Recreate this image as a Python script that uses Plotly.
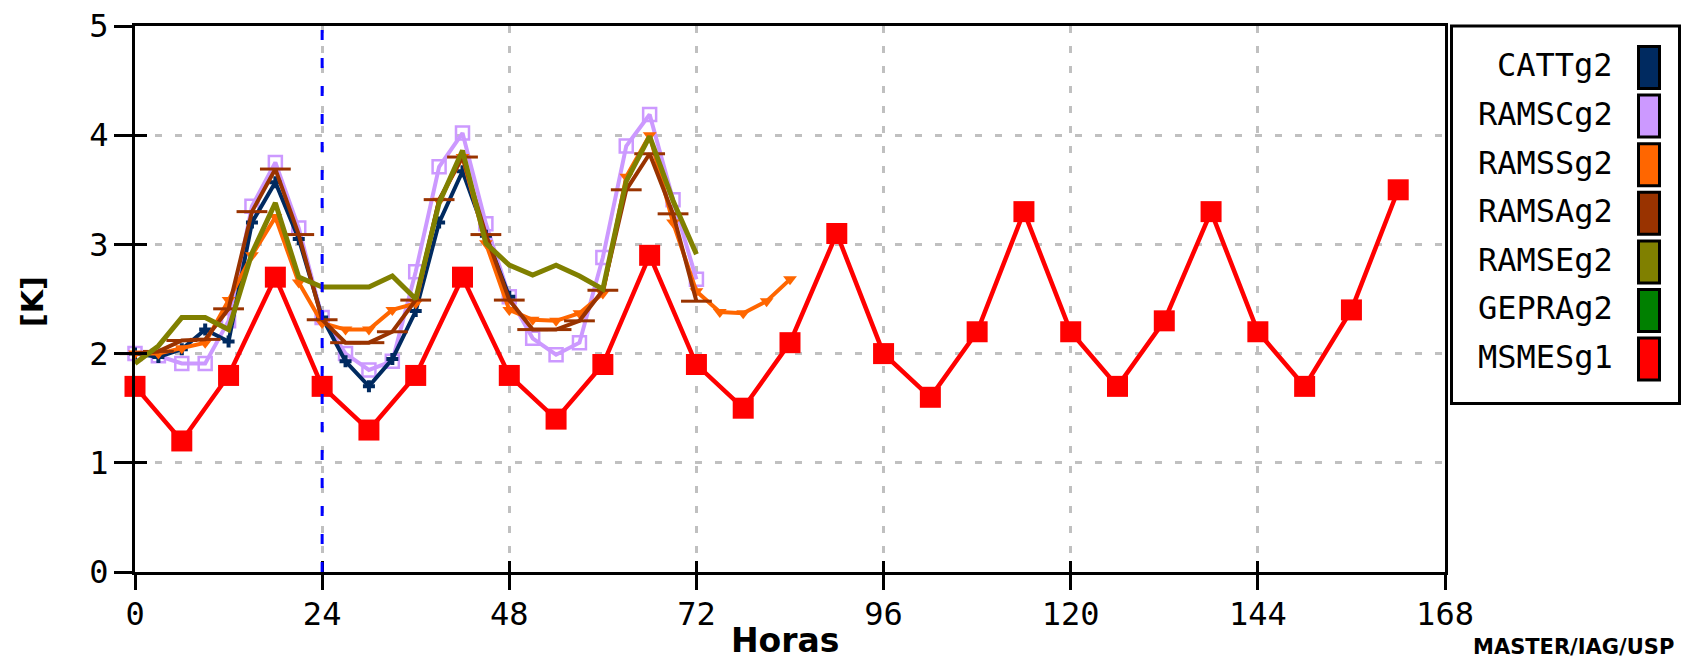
import plotly.graph_objects as go

# ---------------- data ----------------
hours3 = list(range(0, 85, 3))
hours6 = list(range(0, 163, 6))

catt = [2.0, 1.97, 2.04, 2.22, 2.11, 3.2, 3.57, 3.05, 2.33, 1.93, 1.7, 1.95, 2.39,
        3.2, 3.67, 3.08, 2.52]
ramsc = [2.0, 1.98, 1.91, 1.91, 2.3, 3.35, 3.75, 3.15, 2.33, 2.0, 1.85, 1.93, 2.75,
         3.71, 4.02, 3.19, 2.52, 2.14, 1.99, 2.1, 2.88, 3.9, 4.19, 3.41, 2.68]
ramss = [2.0, 2.0, 2.05, 2.1, 2.49, 2.9, 3.25, 2.65, 2.28, 2.22, 2.22, 2.4, 2.46,
         3.4, 3.8, 3.01, 2.4, 2.31, 2.3, 2.37, 2.55, 3.62, 4.0, 3.2, 2.57, 2.38,
         2.37, 2.48, 2.68]
ramsa = [2.0, 2.02, 2.12, 2.13, 2.41, 3.3, 3.69, 3.09, 2.31, 2.1, 2.1, 2.2, 2.49,
         3.41, 3.8, 3.09, 2.49, 2.22, 2.22, 2.3, 2.58, 3.5, 3.83, 3.28, 2.48]
ramse = [1.91, 2.07, 2.33, 2.33, 2.22, 2.92, 3.38, 2.7, 2.61, 2.61, 2.61, 2.71, 2.5,
         3.38, 3.86, 3.01, 2.81, 2.72, 2.81, 2.71, 2.59, 3.58, 3.99, 3.4, 2.91]
gepra = []
msmes = [1.7, 1.2, 1.8, 2.7, 1.7, 1.3, 1.8, 2.7, 1.8, 1.4, 1.9, 2.9, 1.9, 1.5, 2.1,
         3.1, 2.0, 1.6, 2.2, 3.3, 2.2, 1.7, 2.3, 3.3, 2.2, 1.7, 2.4, 3.5]

names = ["CATTg2", "RAMSCg2", "RAMSSg2", "RAMSAg2", "RAMSEg2", "GEPRAg2", "MSMESg1"]
colors = ["#002A60", "#CC99FF", "#FF6600", "#993300", "#808000", "#008000", "#FF0000"]

forecast_start = 24
x_ticks = [0, 24, 48, 72, 96, 120, 144, 168]
y_ticks = [0, 1, 2, 3, 4, 5]

# ---------------- layout geometry ----------------
W, H = 1681, 662
L, R, T, B = 135, 1445, 26, 572


def px_x(p):
    return (p - L) / (R - L)


def px_y(p):
    return (B - p) / (B - T)


TICKFONT = dict(family="DejaVu Sans Mono", size=32, color="black")

fig = go.Figure()

styles = {
    "CATTg2": (catt, hours3, dict(symbol="cross", size=10), 4),
    "RAMSCg2": (ramsc, hours3, dict(symbol="square-open", size=13, line=dict(width=2.5)), 4),
    "RAMSSg2": (ramss, hours3, dict(symbol="triangle-down", size=12), 4),
    "RAMSAg2": (ramsa, hours3, dict(symbol="line-ew", size=22, line=dict(width=3)), 4),
    "RAMSEg2": (ramse, hours3, dict(size=1), 5),
    "GEPRAg2": (gepra, hours3, dict(size=1), 4),
    "MSMESg1": (msmes, hours6, dict(symbol="square", size=21), 4.5),
}
draw_order = ["RAMSCg2", "CATTg2", "RAMSSg2", "RAMSAg2", "RAMSEg2", "GEPRAg2", "MSMESg1"]
for name in draw_order:
    vals, xs, mk, lw = styles[name]
    col = colors[names.index(name)]
    mk = dict(mk)
    mk["color"] = col
    if "line" in mk:
        mk["line"] = dict(mk["line"], color=col)
    mode = "lines" if name in ("RAMSEg2", "GEPRAg2") else "lines+markers"
    fig.add_trace(go.Scatter(
        x=xs[:len(vals)], y=vals, name=name, mode=mode,
        line=dict(color=col, width=lw), marker=mk,
        cliponaxis=False, showlegend=False,
    ))

# invisible trace on overlay axes so inside ticks are drawn
fig.add_trace(go.Scatter(x=[None], y=[None], xaxis="x2", yaxis="y2",
                         showlegend=False, hoverinfo="skip"))

fig.update_layout(
    width=W, height=H,
    margin=dict(l=L, r=W - R, t=T, b=H - B, autoexpand=False),
    paper_bgcolor="white", plot_bgcolor="white",
    showlegend=False,
    xaxis=dict(
        range=[0, 168], tickvals=x_ticks, ticktext=[str(v) for v in x_ticks],
        showline=True, linecolor="black", linewidth=3, mirror=True,
        ticks="outside", ticklen=15, tickwidth=3, tickcolor="black",
        showgrid=True, gridcolor="#C0C0C0", gridwidth=3, griddash="7px,13px",
        zeroline=False, tickfont=TICKFONT, ticklabelstandoff=-3,
    ),
    yaxis=dict(
        range=[0, 5], tickvals=y_ticks, ticktext=[str(v) for v in y_ticks],
        showline=True, linecolor="black", linewidth=3, mirror=True,
        ticks="outside", ticklen=18, tickwidth=3, tickcolor="black",
        showgrid=True, gridcolor="#C0C0C0", gridwidth=3, griddash="7px,13px",
        zeroline=False, tickfont=TICKFONT, ticklabelstandoff=-1,
    ),
    xaxis2=dict(
        range=[0, 168], overlaying="x", anchor="y", side="bottom",
        tickvals=x_ticks, showticklabels=False, ticks="inside", ticklen=11,
        tickwidth=3, tickcolor="black", showgrid=False, showline=False, zeroline=False,
    ),
    yaxis2=dict(
        range=[0, 5], overlaying="y", anchor="x", side="left",
        tickvals=y_ticks, showticklabels=False, ticks="inside", ticklen=12,
        tickwidth=3, tickcolor="black", showgrid=False, showline=False, zeroline=False,
    ),
)

shapes = []
# forecast start marker
shapes.append(dict(type="line", xref="x", yref="paper", x0=forecast_start, x1=forecast_start,
                   y0=0, y1=1, line=dict(color="#0000FF", width=3, dash="10px,18px"),
                   layer="above"))

annotations = []
# legend box
shapes.append(dict(type="rect", xref="paper", yref="paper",
                   x0=px_x(1451.5), x1=px_x(1679.5), y0=px_y(403.5), y1=px_y(26),
                   line=dict(color="black", width=3), fillcolor="white", layer="above"))
for i, (nm, col) in enumerate(zip(names, colors)):
    c = 67.5 + i * 48.6
    shapes.append(dict(type="rect", xref="paper", yref="paper",
                       x0=px_x(1638.5), x1=px_x(1659.5), y0=px_y(c + 21), y1=px_y(c - 21),
                       line=dict(color="black", width=3), fillcolor=col, layer="above"))
    annotations.append(dict(text=nm, xref="paper", yref="paper", x=px_x(1615), y=px_y(c - 2),
                            xanchor="right", yanchor="middle", showarrow=False,
                            font=dict(family="DejaVu Sans Mono", size=32, color="black")))

annotations.append(dict(text="<b>Horas</b>", xref="paper", yref="paper",
                        x=px_x(785), y=px_y(640), xanchor="center", yanchor="middle",
                        showarrow=False,
                        font=dict(family="DejaVu Sans", size=33, color="black")))
annotations.append(dict(text="<b>[K]</b>", xref="paper", yref="paper", textangle=-90,
                        x=px_x(32), y=px_y(302), xanchor="center", yanchor="middle",
                        showarrow=False,
                        font=dict(family="DejaVu Sans", size=30, color="black")))
annotations.append(dict(text="<b>MASTER/IAG/USP</b>", xref="paper", yref="paper",
                        x=px_x(1676), y=px_y(647), xanchor="right", yanchor="middle",
                        showarrow=False,
                        font=dict(family="DejaVu Sans", size=21, color="black")))

fig.update_layout(shapes=shapes, annotations=annotations)

fig.write_html("out.html")
